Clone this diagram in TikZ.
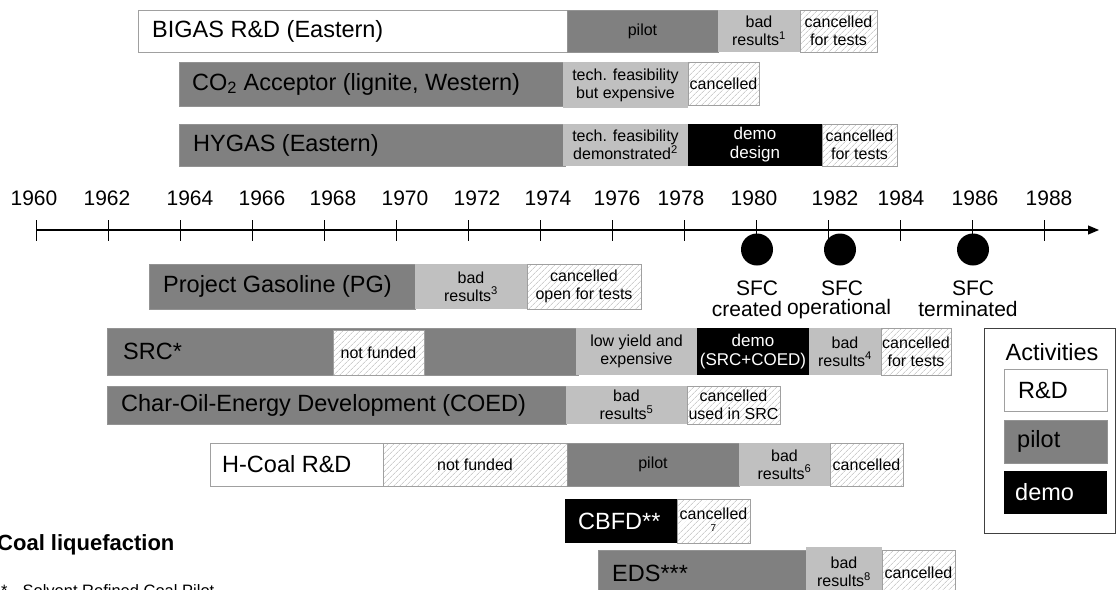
\documentclass[tikz,border=0pt]{standalone}
\usepackage{fontspec}
\setmainfont{Liberation Sans}
\usetikzlibrary{patterns.meta,arrows.meta}
\definecolor{pilotgray}{HTML}{808080}
\definecolor{lightgray2}{HTML}{C0C0C0}
\definecolor{edgegray}{HTML}{A0A0A0}
\definecolor{hatchgray}{HTML}{B4B4B4}
\tikzset{
  segbase/.style={inner sep=0pt, outer sep=0pt, align=center, font=\fontsize{16}{18}\selectfont},
  rdbox/.style={segbase, fill=white, draw=edgegray, line width=0.8pt},
  pilotbox/.style={segbase, fill=pilotgray, draw=pilotgray!85!white, line width=0.6pt},
  lightbox/.style={segbase, fill=lightgray2},
  demobox/.style={segbase, fill=black, text=white, font=\fontsize{17}{19}\selectfont},
  hatchbox/.style={segbase, draw=edgegray, line width=0.7pt, preaction={fill=white},
    pattern={Lines[angle=45, distance=4pt, line width=0.6pt]}, pattern color=hatchgray},
  biglabel/.style={font=\fontsize{23.5}{26}\selectfont, anchor=west, inner sep=0pt},
  yearlabel/.style={font=\fontsize{21}{23}\selectfont, inner sep=0pt},
  sfcdot/.style={circle, fill=black, minimum size=32pt, inner sep=0pt},
}
\newcommand\bseg[7]{%
  \node[#2, minimum width={(#4-#3)*1pt}, minimum height={(#6-#5)*1pt}] (#1) at ({(#3+#4)/2},{(#5+#6)/2}) {#7};}
\begin{document}
\begin{tikzpicture}[x=1pt,y=-1pt]
\useasboundingbox (0,0) rectangle (1116,589);
\clip (0,0) rectangle (1116,589);
% ---- BIGAS
\bseg{bigasRD}{rdbox}{138}{567}{10}{52}{}
\bseg{bigasPilot}{pilotbox}{567}{718}{10}{52}{pilot}
\bseg{bigasBad}{lightbox}{718}{800}{10}{52}{bad\\results\textsuperscript{1}}
\bseg{bigasCan}{hatchbox}{800}{877}{10}{52}{cancelled\\for tests}
\node[biglabel] (bigasT) at (152,31) {BIGAS R\&D (Eastern)};
% ---- CO2 Acceptor
\bseg{coaP}{pilotbox}{179}{565}{62}{106}{}
\bseg{coaTech}{lightbox}{563}{688}{62}{108}{tech. feasibility\\but expensive}
\bseg{coaCan}{hatchbox}{688}{759}{62}{105}{cancelled}
\node[biglabel] (coaT) at (192,84) {CO\textsubscript{2} Acceptor (lignite, Western)};
% ---- HYGAS
\bseg{hyP}{pilotbox}{179}{565}{124}{166}{}
\bseg{hyTech}{lightbox}{563}{688}{124}{166}{tech. feasibility\\demonstrated\textsuperscript{2}}
\bseg{hyDemo}{demobox}{688}{822}{124}{166}{demo\\design}
\bseg{hyCan}{hatchbox}{822}{897}{124}{166}{cancelled\\for tests}
\node[biglabel] (hyT) at (193,145) {HYGAS (Eastern)};
% ---- time axis
\coordinate (axL) at (36.7,230);
\coordinate (axR) at (1099,230);
\draw[line width=1.1pt, -{Triangle[length=11pt,width=9pt]}] (axL) -- (axR);
\foreach \i in {0,...,14} \draw[line width=0.9pt] (36.7+72*\i,220) -- (36.7+72*\i,241);
\foreach \yr/\xx in {1960/34,1962/107,1964/190,1966/262,1968/333,1970/405,1972/477,1974/548,1976/617,1978/681,1980/754,1982/835,1984/901,1986/975,1988/1049}
  \node[yearlabel] (y\yr) at (\xx,198) {\yr};
\node[sfcdot] (sfc1) at (757,249.5) {};
\node[sfcdot] (sfc2) at (840,249.5) {};
\node[sfcdot] (sfc3) at (973,249.5) {};
\node[yearlabel] (sfc1a) at (757,288) {SFC};
\node[yearlabel] (sfc1b) at (747,309) {created};
\node[yearlabel] (sfc2a) at (842,288) {SFC};
\node[yearlabel] (sfc2b) at (839,309) {operational};
\node[yearlabel] (sfc3a) at (973,288) {SFC};
\node[yearlabel] (sfc3b) at (968,309) {terminated};
% ---- Project Gasoline
\bseg{pgP}{pilotbox}{149}{415}{264}{309}{}
\bseg{pgBad}{lightbox}{415}{527}{264}{309}{bad\\results\textsuperscript{3}}
\bseg{pgCan}{hatchbox}{527}{641}{264}{309}{cancelled\\open for tests}
\node[biglabel] (pgT) at (163,286.5) {Project Gasoline (PG)};
% ---- SRC
\bseg{srcP}{pilotbox}{107}{578}{328}{375}{}
\bseg{srcNF}{hatchbox}{333}{424}{330}{375}{not funded}
\bseg{srcLow}{lightbox}{576}{697}{328}{375}{low yield and\\expensive}
\bseg{srcDemo}{demobox}{697}{809}{328}{375}{demo\\(SRC+COED)}
\bseg{srcBad}{lightbox}{809}{881}{328}{375}{bad\\results\textsuperscript{4}}
\bseg{srcCan}{hatchbox}{881}{951}{328}{375}{cancelled\\for tests}
\node[biglabel] (srcT) at (123,351.5) {SRC*};
% ---- COED
\bseg{coedP}{pilotbox}{107}{566}{386}{424}{}
\bseg{coedBad}{lightbox}{566}{687}{386}{424}{bad\\results\textsuperscript{5}}
\bseg{coedCan}{hatchbox}{687}{780}{386}{424}{cancelled\\used in SRC}
\node[biglabel] (coedT) at (121,405) {Char-Oil-Energy Development (COED)};
% ---- H-Coal
\bseg{hcRD}{rdbox}{210}{383}{443}{486}{}
\bseg{hcNF}{hatchbox}{383}{567}{443}{486}{not funded}
\bseg{hcP}{pilotbox}{567}{739}{443}{486}{pilot}
\bseg{hcBad}{lightbox}{739}{830}{443}{486}{bad\\results\textsuperscript{6}}
\bseg{hcCan}{hatchbox}{830}{903}{443}{486}{cancelled}
\node[biglabel] (hcT) at (222,464.5) {H-Coal R\&D};
% ---- CBFD
\bseg{cbP}{demobox}{565}{677}{499}{543}{}
\bseg{cbCan}{hatchbox}{677}{750}{499}{543}{}
\node[biglabel, text=white] (cbT) at (578,521) {CBFD**};
\node[font=\fontsize{16}{18}\selectfont, inner sep=0pt] (cbCanT) at (713.5,514) {cancelled};
\node[font=\fontsize{10}{11}\selectfont, inner sep=0pt] (cbCanN) at (713.5,528) {7};
% ---- EDS
\bseg{edsP}{pilotbox}{598}{806}{550}{600}{}
\bseg{edsBad}{lightbox}{806}{882}{547}{600}{}
\bseg{edsCan}{hatchbox}{882}{955}{550}{600}{}
\node[biglabel] (edsT) at (612,573) {EDS***};
\node[segbase] (edsBadT) at (844,572) {bad\\results\textsuperscript{8}};
\node[segbase] (edsCanT) at (918.5,573) {cancelled};
% ---- legend
\node[draw=black!75, line width=0.9pt, minimum width=131pt, minimum height=205pt, inner sep=0pt] (leg) at (1049.5,430.5) {};
\node[font=\fontsize{23.5}{26}\selectfont, inner sep=0pt] (legT) at (1052,352) {Activities};
\bseg{legRD}{rdbox}{1004}{1107}{369}{411}{}
\bseg{legP}{pilotbox}{1004}{1107}{420}{463}{}
\bseg{legD}{demobox}{1004}{1107}{471}{514}{}
\node[biglabel] (legRDt) at (1018,390) {R\&D};
\node[biglabel] (legPt) at (1017,441.5) {pilot};
\node[biglabel, text=white] (legDt) at (1015,492.5) {demo};
% ---- titles
\node[font=\bfseries\fontsize{22}{24}\selectfont, anchor=west, inner sep=0pt] (title) at (-3,545) {Coal liquefaction};
\node[font=\fontsize{16.5}{18}\selectfont, anchor=base west, inner sep=0pt] (fn) at (1,596) {*\hspace{15pt}Solvent Refined Coal Pilot};
\end{tikzpicture}
\end{document}
